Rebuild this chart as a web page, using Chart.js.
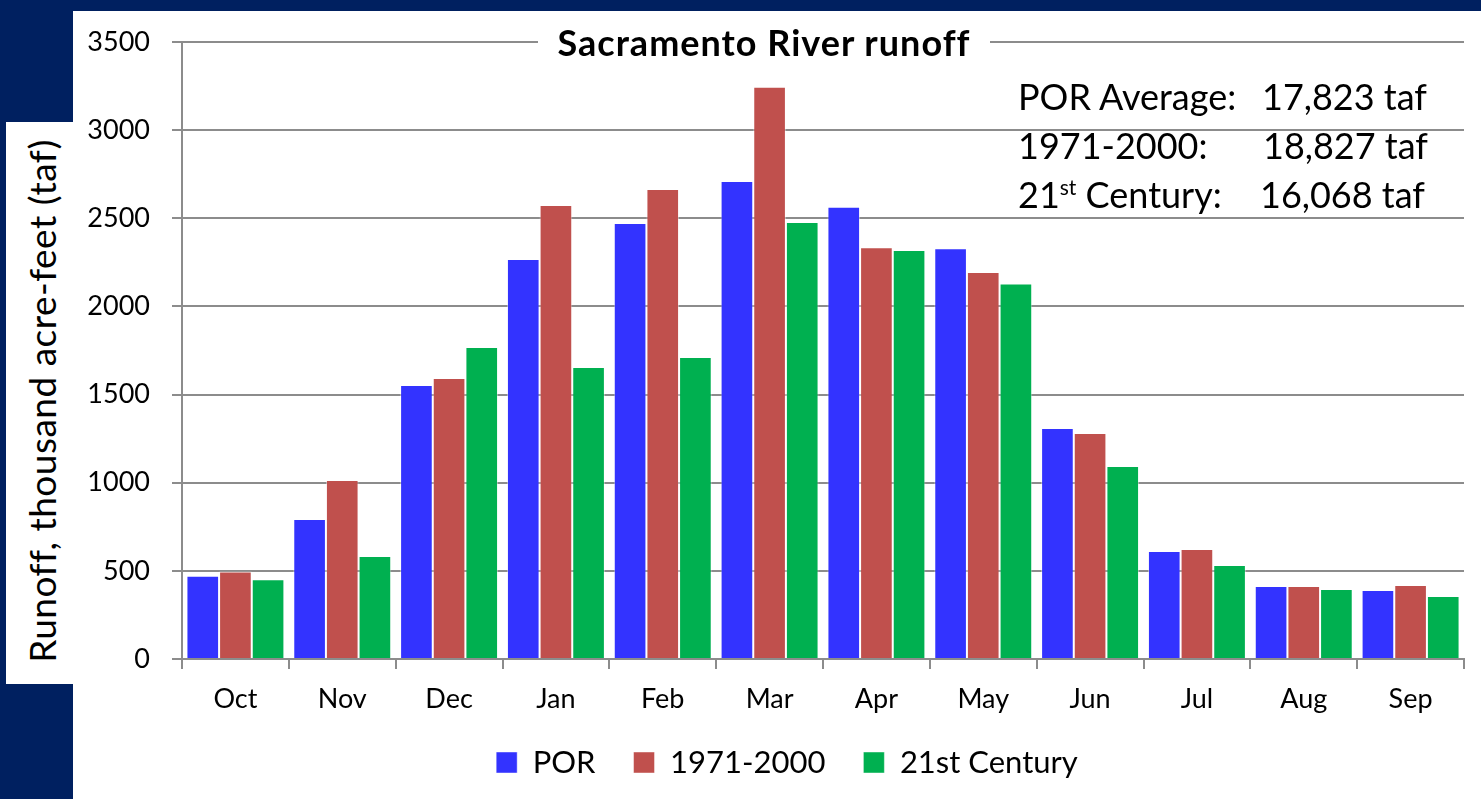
<!DOCTYPE html>
<html>
<head>
<meta charset="utf-8">
<title>Sacramento River runoff</title>
<script src="https://cdn.jsdelivr.net/npm/chart.js@4.4.1/dist/chart.umd.min.js"></script>
<style>
  html, body { margin: 0; padding: 0; width: 1481px; height: 799px; overflow: hidden; background: #002060; font-family: Lato, sans-serif; color: #000; }
  #panel { position: absolute; left: 73px; top: 11px; right: 0; bottom: 0; background: #fff; }
  #ylabel-box { position: absolute; left: 6px; top: 122px; width: 67px; height: 562px; background: #fff; }
  #ylabel { position: absolute; left: 41px; top: 401px; transform: translate(-50%, -50%) rotate(-90deg); white-space: nowrap; font-size: 37px; letter-spacing: 0.5px; }
  #graph-container { position: absolute; left: 0; top: 0; }
  #titre { position: absolute; left: 538px; top: 22px; width: 452px; height: 40px; background: #fff; text-align: center; font-weight: bold; font-size: 36px; letter-spacing: 1px; line-height: 40px; white-space: nowrap; }
  #stats { position: absolute; left: 1018px; top: 72px; font-size: 36px; line-height: 49px; white-space: nowrap; }
  #stats div { position: relative; height: 49px; }
  #stats .val { position: absolute; top: 0; }
  #stats sup { font-size: 21px; line-height: 0; vertical-align: 13px; }
</style>
</head>
<body>
<div id="panel"></div>
<div id="ylabel-box"></div>
<div id="ylabel">Runoff, thousand acre-feet (taf)</div>
<div id="graph-container"><canvas id="graph1" width="1481" height="798"></canvas></div>
<div id="titre">Sacramento River runoff</div>
<div id="stats">
  <div><span>POR Average:</span><span class="val" style="left:244px">17,823 taf</span></div>
  <div><span>1971-2000:</span><span class="val" style="left:245px">18,827 taf</span></div>
  <div><span>21<sup>st</sup> Century:</span><span class="val" style="left:242px">16,068 taf</span></div>
</div>
<script>
// ---- data ----
const mois = ["Oct", "Nov", "Dec", "Jan", "Feb", "Mar", "Apr", "May", "Jun", "Jul", "Aug", "Sep"];
const por      = [472, 794, 1554, 2269, 2473, 2711, 2566, 2330, 1310, 613, 414, 391];
const normale  = [496, 1015, 1594, 2575, 2666, 3246, 2335, 2195, 1282, 624, 414, 420];
const siecle21 = [452, 584, 1770, 1656, 1713, 2479, 2320, 2130, 1095, 533, 397, 357];
const ticksY = [0, 500, 1000, 1500, 2000, 2500, 3000, 3500];

// ---- chart ----
const gris = "#8c8c8c";
const police = "Lato";

// nudge the legend so it sits where the original one is
const decalageLegende = {
  id: "decalageLegende",
  afterLayout(chart) {
    const l = chart.legend;
    if (!l) return;
    l.left += 15; l.right += 15;
    l.top -= 10; l.bottom -= 10;
  }
};

const canvas = document.getElementById("graph1");

new Chart(canvas, {
  type: "bar",
  data: {
    labels: mois,
    datasets: [
      { label: "POR", data: por, backgroundColor: "#3333FF", borderColor: "rgba(255,255,255,0.45)", borderWidth: 1 },
      { label: "1971-2000", data: normale, backgroundColor: "#C0504D", borderColor: "rgba(255,255,255,0.45)", borderWidth: 1 },
      { label: "21st Century", data: siecle21, backgroundColor: "#00B050", borderColor: "rgba(255,255,255,0.45)", borderWidth: 1 }
    ]
  },
  plugins: [decalageLegende],
  options: {
    responsive: false,
    animation: false,
    layout: { padding: { left: 80, right: 17, top: 42, bottom: 0 } },
    datasets: { bar: { categoryPercentage: 0.917, barPercentage: 1 } },
    plugins: {
      legend: {
        position: "bottom",
        labels: { font: { family: police, size: 31 }, color: "#000", boxWidth: 21, boxHeight: 21, padding: 38 }
      },
      title: { display: false },
      tooltip: { enabled: false }
    },
    scales: {
      x: {
        grid: { offset: true, drawOnChartArea: false, drawTicks: true, tickLength: 10, color: gris, lineWidth: 2 },
        border: { color: gris, width: 2 },
        ticks: { font: { family: police, size: 27 }, color: "#000", padding: 14 },
        afterFit: s => { s.height = 60; }
      },
      y: {
        min: 0,
        max: 3500,
        afterBuildTicks: s => { s.ticks = ticksY.map(v => ({ value: v })); },
        grid: { color: gris, lineWidth: 2, tickLength: 10 },
        border: { color: gris, width: 2 },
        ticks: { font: { family: police, size: 27 }, color: "#000", padding: 22, callback: v => String(v) },
        afterFit: s => { s.width = 102; }
      }
    }
  }
});
</script>
</body>
</html>
